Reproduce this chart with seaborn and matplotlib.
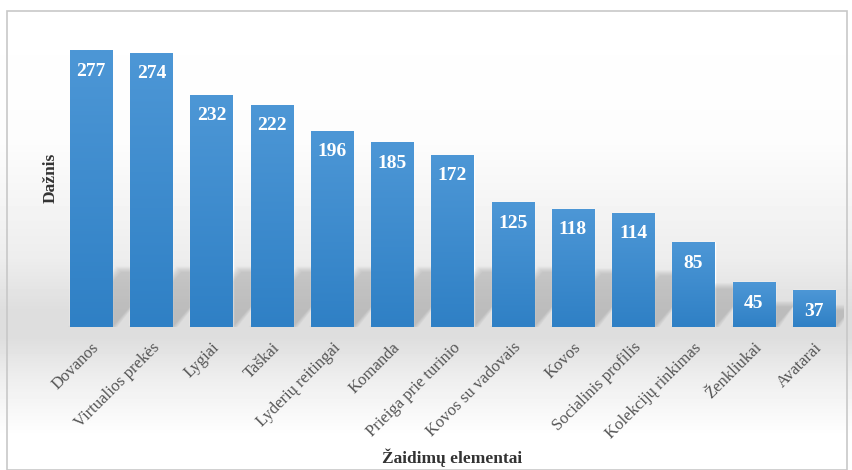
import numpy as np
import pandas as pd
import matplotlib
matplotlib.use("Agg")
import matplotlib.pyplot as plt
from matplotlib.colors import LinearSegmentedColormap
from matplotlib.patches import Polygon
import seaborn as sns

categories = ["Dovanos", "Virtualios prekės", "Lygiai", "Taškai", "Lyderių reitingai",
              "Komanda", "Prieiga prie turinio", "Kovos su vadovais", "Kovos",
              "Socialinis profilis", "Kolekcijų rinkimas", "Ženkliukai", "Avatarai"]
values = [277, 274, 232, 222, 196, 185, 172, 125, 118, 114, 85, 45, 37]
x_title = "Žaidimų elementai"
y_title = "Dažnis"

df = pd.DataFrame({"cat": categories, "val": values})

sns.set_theme(style="white")
plt.rcParams['font.family'] = ['Liberation Serif', 'DejaVu Serif']

W, H = 852, 470
fig = plt.figure(figsize=(W / 100, H / 100), dpi=100)

# background gradient over the whole figure
bg = fig.add_axes([0, 0, 1, 1], zorder=0)
ys = np.linspace(0, 1, 470)  # 0 = top
stops_y = [0.0, 0.30, 0.55, 0.66, 0.72, 0.80, 0.93, 1.0]
stops_v = [1.0, 0.99, 0.93, 0.87, 0.87, 0.93, 1.0, 1.0]
col = np.interp(ys, stops_y, stops_v)
img = np.repeat(col[:, None], 10, axis=1)
bg.imshow(img, cmap="gray", vmin=0, vmax=1, aspect="auto", extent=[0, 1, 1, 0])
bg.set_xlim(0, 1); bg.set_ylim(1, 0)
bg.axis("off")
border = plt.Rectangle((7 / W, 0.5 / H), (W - 12) / W, (H - 11.5) / H, transform=fig.transFigure,
                       fill=False, edgecolor="#c8c8c8", linewidth=1.2, zorder=1)
fig.patches.append(border)

ax = fig.add_axes([61 / W, (H - 327) / H, (844 - 61) / W, 300 / H], zorder=2)
ax.patch.set_alpha(0)
sns.barplot(data=df, x="cat", y="val", color="#3a88cc", width=0.7, ax=ax, saturation=1)
ax.set_xlim(-0.5, len(categories) - 0.5)
ax.set_ylim(0, 300)

cmap = LinearSegmentedColormap.from_list("bar", ["#2f80c5", "#4d97d6"])
grad = np.linspace(0, 1, 256)[:, None]
for p in list(ax.patches):
    x0, y0 = p.get_x(), p.get_y()
    w, h = p.get_width(), p.get_height()
    im = ax.imshow(grad, cmap=cmap, aspect="auto", origin="lower",
                   extent=[x0, x0 + w, y0, y0 + h], zorder=3)
    im.set_clip_path(p)
    # soft perspective shadow cast up and to the right
    dy = min(55, h * 0.45)
    dx = dy / 55 * 0.8
    for k in range(8):
        e = 0.012 * k
        poly = Polygon([(x0 + 0.05 - e, 0), (x0 + w + e, 0),
                        (x0 + w + dx + e, dy + 0.8 * k), (x0 + dx + 0.05 - e, dy + 0.8 * k)],
                       closed=True, facecolor="#6f6f6f", alpha=0.04, edgecolor="none", zorder=1.5)
        ax.add_patch(poly)
    ax.text(x0 + w / 2, y0 + h - 21, f"{int(round(h))}", ha="center", va="center",
            color="white", fontsize=14, fontweight="bold", zorder=4)
ax.set_xlim(-0.5, len(categories) - 0.5)
ax.set_ylim(0, 300)

for s in ax.spines.values():
    s.set_visible(False)
ax.set_yticks([])
ax.set_xlabel("")
ax.set_ylabel("")
ax.tick_params(axis="x", length=0, pad=9)
ax.set_xticks(range(len(categories)))
ax.set_xticklabels(categories, rotation=45, ha="right", va="top", rotation_mode="anchor",
                   fontsize=12, color="#555555")

fig.text(51 / W, 1 - 178 / H, y_title, rotation=90, ha="center", va="center",
         fontsize=12.5, fontweight="bold", color="#333333", zorder=5)
fig.text(452 / W, 1 - 458 / H, x_title, ha="center", va="center",
         fontsize=12.5, fontweight="bold", color="#333333", zorder=5)

fig.savefig("out.png", dpi=100)
